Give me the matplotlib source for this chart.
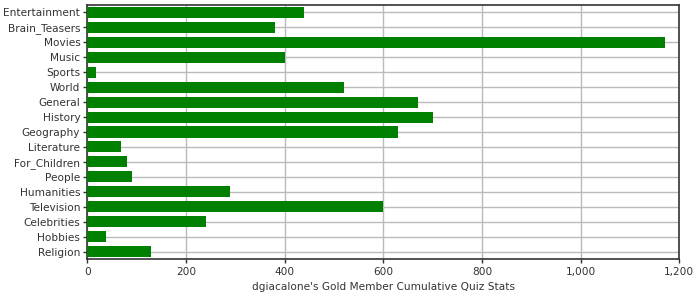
import matplotlib
matplotlib.use("Agg")
import matplotlib.pyplot as plt
from matplotlib.ticker import FuncFormatter

categories = ["Entertainment", "Brain_Teasers", "Movies", "Music", "Sports", "World",
              "General", "History", "Geography", "Literature", "For_Children", "People",
              "Humanities", "Television", "Celebrities", "Hobbies", "Religion"]
values = [440, 380, 1170, 400, 18, 520, 670, 700, 630, 68, 80, 90, 290, 600, 240, 38, 130]
x_ticks = [0, 200, 400, 600, 800, 1000, 1200]
x_label = "dgiacalone's Gold Member Cumulative Quiz Stats"

text_color = "#333333"
fig = plt.figure(figsize=(7, 3), dpi=100)
ax = fig.add_axes([87.3 / 700, 1 - 259 / 300, (679.3 - 87.3) / 700, (259 - 5) / 300])

pos = list(range(len(categories)))
ax.barh(pos, values, height=0.74, color="#008000", zorder=3)

ax.set_ylim(len(categories) - 0.5, -0.5)
ax.set_xlim(0, 1200)
ax.set_yticks(pos)
ax.set_yticklabels(categories)
ax.set_xticks(x_ticks)
ax.xaxis.set_major_formatter(FuncFormatter(lambda v, p: f"{int(v):,}"))

ax.grid(True, color="#bbbbbb", linewidth=1, zorder=0)
ax.set_axisbelow(True)
for s in ax.spines.values():
    s.set_color(text_color)
    s.set_linewidth(1.2)

ax.tick_params(axis="both", labelsize=7.6, colors=text_color, length=3, width=1, pad=2)
ax.tick_params(axis="x", pad=3)
ax.set_xlabel(x_label, fontsize=7.6, color=text_color, labelpad=3)

fig.savefig("out.png", dpi=100)
